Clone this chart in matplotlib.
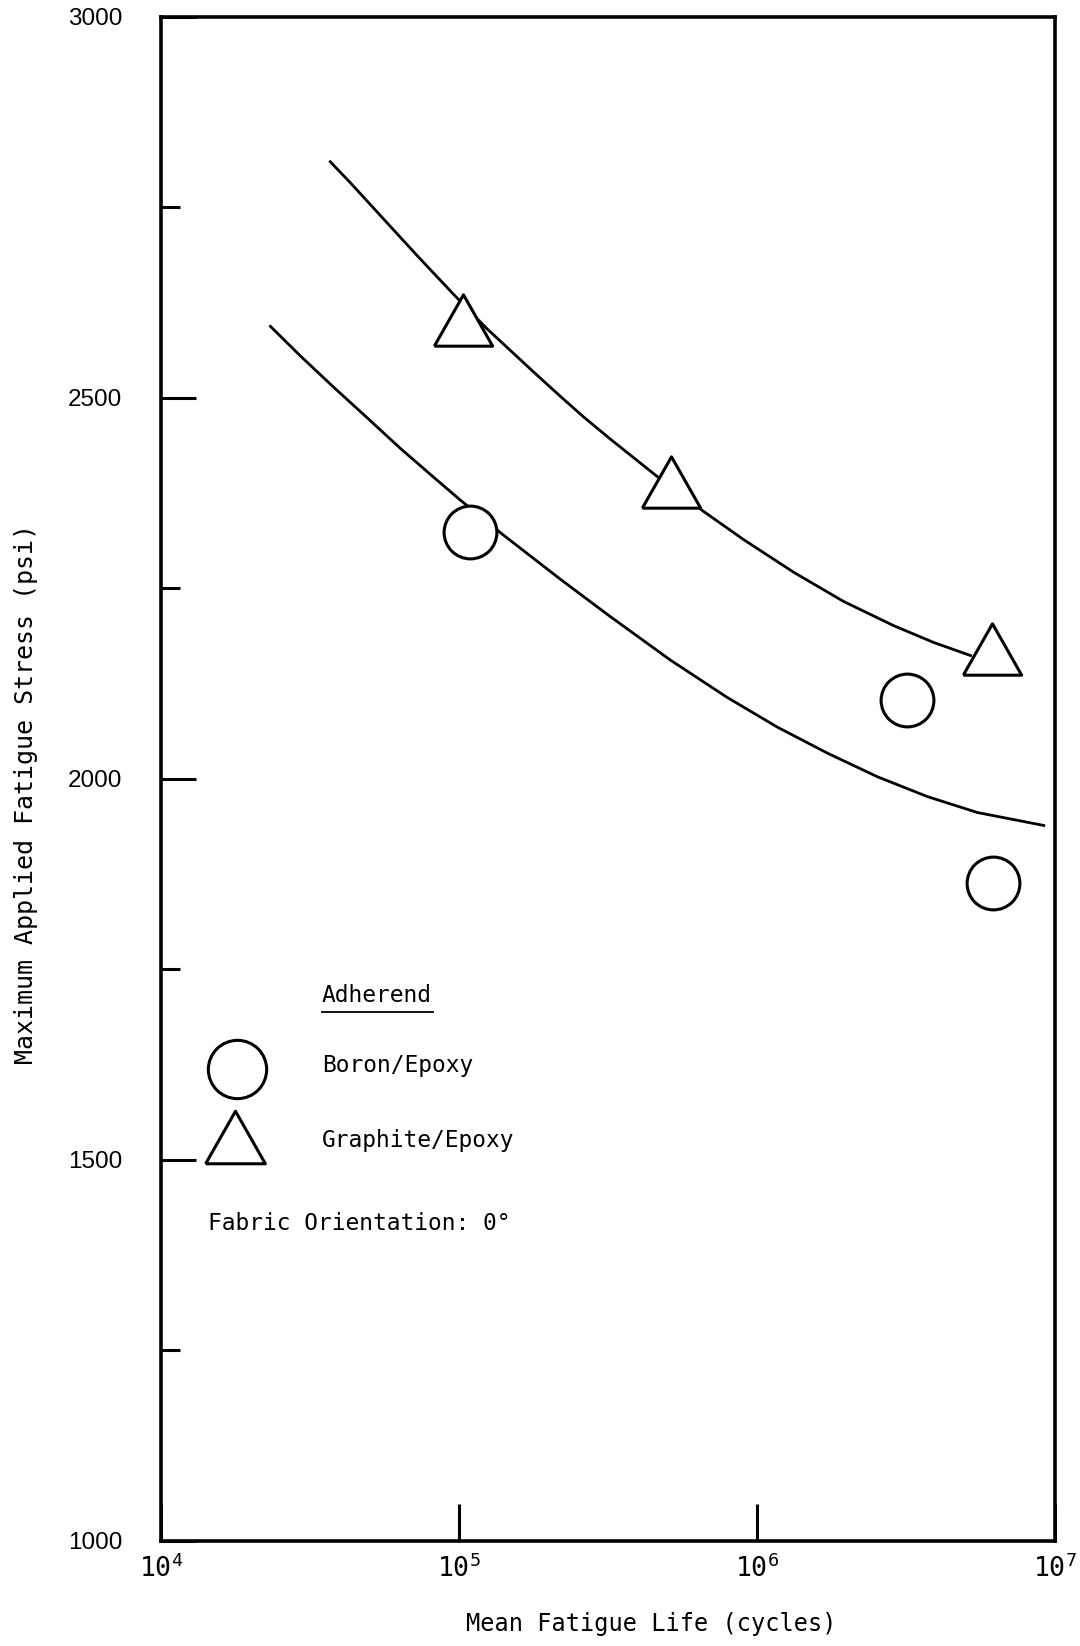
import matplotlib
matplotlib.use("Agg")
import numpy as np
import matplotlib.pyplot as plt

# mean fatigue life (cycles) and max stress (psi)
boron_life = [1.09e5, 3.19e6, 6.2e6]
boron_stress = [2324, 2103, 1863]
graphite_life = [1.03e5, 5.15e5, 6.15e6]
graphite_stress = [2602, 2390, 2170]

# hand drawn fit curves, traced point by point
boron_curve_life = [2.33e4, 2.94e4, 3.80e4, 4.92e4, 6.35e4, 8.22e4, 1.01e5,
                    1.41e5, 2.19e5, 3.22e5, 5.12e5, 7.94e5, 1.17e6, 1.72e6,
                    2.53e6, 3.72e6, 5.48e6, 9.16e6]
boron_curve_stress = [2594, 2555, 2514, 2474, 2434, 2396, 2366,
                      2320, 2262, 2213, 2156, 2107, 2068, 2034,
                      2003, 1977, 1956, 1939]
graphite_curve_life = [3.70e4, 4.33e4, 5.58e4, 7.23e4, 9.59e4, 1.24e5,
                       1.78e5, 2.19e5, 2.62e5, 3.22e5, 4.62e5, 6.62e5,
                       9.02e5, 1.33e6, 1.95e6, 2.88e6, 3.92e6, 5.20e6]
graphite_curve_stress = [2810, 2782, 2735, 2687, 2636, 2591,
                         2534, 2502, 2475, 2446, 2397, 2351,
                         2314, 2271, 2233, 2201, 2179, 2162]

xticks = [1e4, 1e5, 1e6, 1e7]
xticklabels = [r"$\mathregular{10^{4}}$", r"$\mathregular{10^{5}}$",
               r"$\mathregular{10^{6}}$", r"$\mathregular{10^{7}}$"]
yticks = [1000, 1500, 2000, 2500, 3000]
yminor = [1250, 1750, 2250, 2750]

MONO = ["DejaVu Sans Mono"]
NUM = ["Liberation Sans", "DejaVu Sans"]

tri = [(-1, -0.88), (1, -0.88), (0, 0.88), (-1, -0.88)]

fig = plt.figure(figsize=(10.8, 16.46), dpi=100)
ax = fig.add_axes([0.149, 0.0638, 0.828, 0.9259])

ax.plot(boron_curve_life, boron_curve_stress, color="black", lw=2.0)
ax.plot(graphite_curve_life, graphite_curve_stress, color="black", lw=2.0)
ax.plot(boron_life, boron_stress, ls="none", marker="o", ms=38,
        mfc="white", mec="black", mew=2.2, zorder=3)
ax.plot(graphite_life, graphite_stress, ls="none", marker=tri, ms=42,
        mfc="white", mec="black", mew=2.2, zorder=3)

ax.set_xscale("log")
ax.set_xlim(1e4, 1e7)
ax.set_ylim(1000, 3000)

ax.set_xticks(xticks)
ax.set_xticklabels(xticklabels, fontsize=19, family=MONO)
ax.minorticks_off()
ax.set_yticks(yticks)
ax.set_yticklabels([str(v) for v in yticks], fontsize=17.5, family=NUM)
ax.set_yticks(yminor, minor=True)

ax.tick_params(axis="x", which="major", direction="in", length=27, width=2.2,
               pad=10)
ax.tick_params(axis="y", which="major", direction="in", length=25, width=2.2,
               pad=28)
ax.tick_params(axis="y", which="minor", direction="in", length=14, width=2.2)

for s in ax.spines.values():
    s.set_linewidth(2.6)

ax.set_xlabel("Mean Fatigue Life (cycles)", fontsize=17, family=MONO)
ax.xaxis.set_label_coords(0.548, -0.0545)
ax.xaxis.label.set_va("center")
ax.set_ylabel("Maximum Applied Fatigue Stress (psi)", fontsize=18,
              family=MONO)
ax.yaxis.set_label_coords(-0.151, 0.490)
ax.yaxis.label.set_va("center")
ax.yaxis.label.set_ha("center")

# legend block
ax.text(0.180, 0.358, "Adherend", transform=ax.transAxes, fontsize=16.5,
        family=MONO, va="center")
ax.plot([0.180, 0.304], [0.347, 0.347], transform=ax.transAxes,
        color="black", lw=1.3)
ax.plot([0.085], [0.310], transform=ax.transAxes, marker="o", ms=42,
        mfc="white", mec="black", mew=2.2, ls="none")
ax.text(0.180, 0.312, "Boron/Epoxy", transform=ax.transAxes, fontsize=16.5,
        family=MONO, va="center")
ax.plot([0.0834], [0.265], transform=ax.transAxes, marker=tri, ms=43,
        mfc="white", mec="black", mew=2.2, ls="none")
ax.text(0.180, 0.2625, "Graphite/Epoxy", transform=ax.transAxes,
        fontsize=16.5, family=MONO, va="center")
ax.text(0.0526, 0.208, "Fabric Orientation: 0°", transform=ax.transAxes,
        fontsize=16.5, family=MONO, va="center")

fig.savefig("out.png", dpi=100)
